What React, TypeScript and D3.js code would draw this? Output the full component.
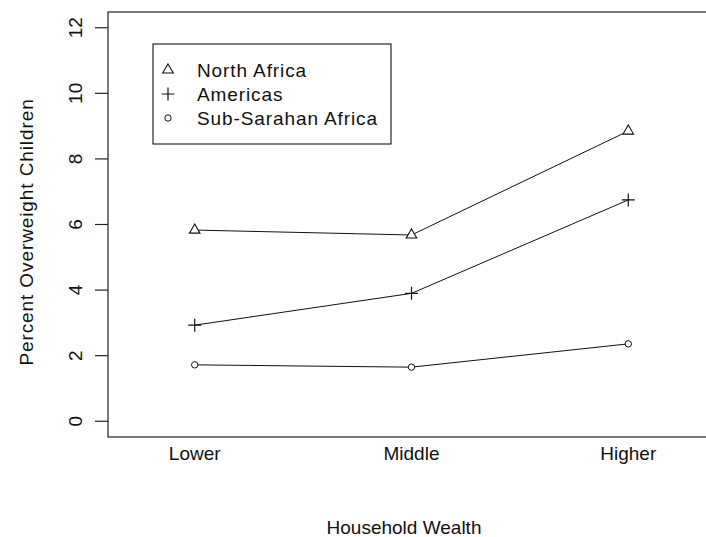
import React from "react";
import * as d3 from "d3";

const categories = ["Lower", "Middle", "Higher"];
const northAfrica = [5.83, 5.68, 8.85];
const americas = [2.93, 3.9, 6.75];
const subSaharan = [1.72, 1.65, 2.36];
const yTicks = [0, 2, 4, 6, 8, 10, 12];
const legendLabels = ["North Africa", "Americas", "Sub-Sarahan Africa"];

const W = 706;
const H = 537;
const FONT = "'Liberation Sans', Arial, sans-serif";

export default function App() {
  const x = d3.scaleLinear().domain([0.6, 3.4]).range([108, 715]);
  const y = d3.scaleLinear().domain([-0.48, 12.48]).range([437, 12]);
  const line = d3
    .line<number>()
    .x((_, i) => x(i + 1))
    .y((d) => y(d));

  const tri = d3.symbol(d3.symbolTriangle, 48)()!;
  const plusPath = "M-6.5,0H6.5M0,-6.5V6.5";

  const series = [
    { vals: northAfrica, shape: "tri" },
    { vals: americas, shape: "plus" },
    { vals: subSaharan, shape: "circle" },
  ];

  const marker = (shape: string, cx: number, cy: number, key: string) => {
    if (shape === "tri")
      return (
        <path key={key} d={tri} transform={`translate(${cx},${cy})`} fill="white" stroke="#111" strokeWidth={1.1} />
      );
    if (shape === "plus")
      return <path key={key} d={plusPath} transform={`translate(${cx},${cy})`} fill="none" stroke="#111" strokeWidth={1.2} />;
    return <circle key={key} cx={cx} cy={cy} r={3.2} fill="white" stroke="#111" strokeWidth={1} />;
  };

  return (
    <svg width={W} height={H} style={{ position: "absolute", left: 0, top: 0, background: "white" }} fontFamily={FONT}>
      <rect x={0} y={0} width={W} height={H} fill="white" />
      <rect x={108} y={12} width={620} height={425} fill="none" stroke="#222" strokeWidth={1.2} />
      {yTicks.map((t) => (
        <g key={t}>
          <line x1={95} x2={108} y1={y(t)} y2={y(t)} stroke="#222" strokeWidth={1.2} />
          <text transform={`translate(82,${y(t)}) rotate(-90)`} textAnchor="middle" fontSize={19} fill="#111">
            {t}
          </text>
        </g>
      ))}
      {categories.map((c, i) => (
        <text key={c} x={x(i + 1)} y={460} textAnchor="middle" fontSize={19} fill="#111">
          {c}
        </text>
      ))}
      <text x={404} y={534} textAnchor="middle" fontSize={19} fill="#111">
        Household Wealth
      </text>
      <text transform={`translate(33,232) rotate(-90)`} textAnchor="middle" fontSize={19} fill="#111" letterSpacing={0.9}>
        Percent Overweight Children
      </text>
      {series.map((s, si) => (
        <g key={si}>
          <path d={line(s.vals)!} fill="none" stroke="#111" strokeWidth={1} />
          {s.vals.map((v, i) => marker(s.shape, x(i + 1), y(v), `${si}-${i}`))}
        </g>
      ))}
      <rect x={153} y={44} width={238} height={100} fill="white" stroke="#111" strokeWidth={1.1} />
      {legendLabels.map((l, i) => {
        const cy = 70 + i * 24;
        return (
          <g key={l}>
            {marker(series[i].shape, 168, cy, `lg-${i}`)}
            <text x={197} y={cy + 7} fontSize={19} fill="#111" letterSpacing={0.9}>
              {l}
            </text>
          </g>
        );
      })}
    </svg>
  );
}
